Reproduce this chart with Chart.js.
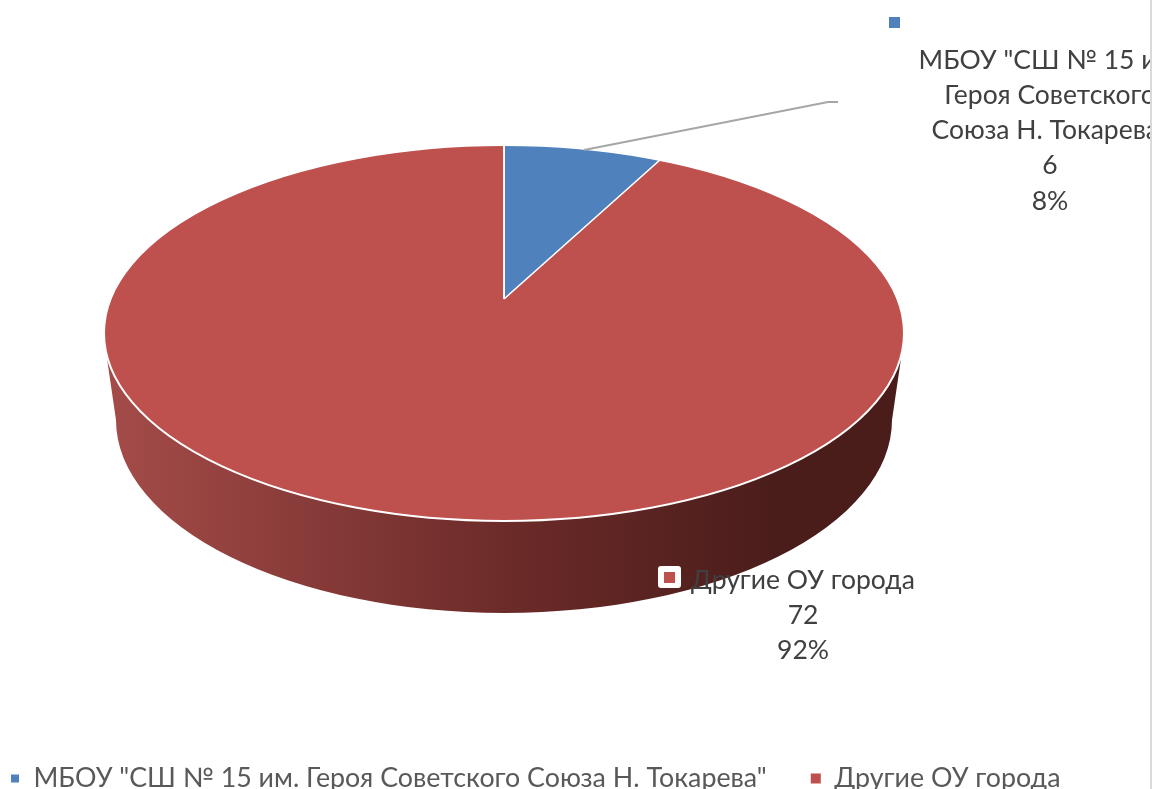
<!DOCTYPE html>
<html>
<head>
<meta charset="utf-8">
<script src="https://cdn.jsdelivr.net/npm/chart.js@4"></script>
<style>
  html, body { margin: 0; padding: 0; background: #fff; overflow: hidden; }
  #wrap { width: 1155px; height: 789px; }
</style>
</head>
<body>
<div id="wrap"><canvas id="pie"></canvas></div>
<script>
const categories = ['МБОУ "СШ № 15 им. Героя Советского Союза Н. Токарева"', 'Другие ОУ города'];
const values = [6, 72];
const percents = ['8%', '92%'];
const colors = ['#4f81bd', '#be504d'];
const labelLines = [
  ['МБОУ "СШ № 15 им.', 'Героя Советского', 'Союза Н. Токарева"'],
  ['Другие ОУ города']
];

const FONT = "Lato, 'Noto Sans', sans-serif";
const TEXT = '#404040';

// top face of the disc on screen
const face = { cx: 504, cy: 333, rx: 400, ry: 188 };
// the small slice has its apex above the ellipse centre (perspective), so it gets its own mapping
const sliceMap = { cx: 504, cy: 299, a: 335.5, b: -5.8, c: 0, d: 154 };

function drawMapped(ctx, arc, m) {
  const r = arc.outerRadius;
  ctx.save();
  ctx.translate(m.cx, m.cy);
  ctx.transform(m.a / r, m.b / r, m.c / r, m.d / r, 0, 0);
  ctx.translate(-arc.x, -arc.y);
  arc.draw(ctx);
  ctx.restore();
}

const disc3d = {
  id: 'disc3d',
  afterLayout(chart) {
    // legend sits hard against the left and bottom edge
    chart.legend.left = -34;
    chart.legend.top += 13;
  },
  beforeDatasetDraw(chart) {
    const ctx = chart.ctx;
    const arcs = chart.getDatasetMeta(0).data;

    // side wall
    const g = ctx.createLinearGradient(116, 0, 892, 0);
    g.addColorStop(0, '#a34b48');
    g.addColorStop(0.5, '#6c2b29');
    g.addColorStop(0.85, '#4a1d1b');
    g.addColorStop(1, '#4a1d1b');
    ctx.save();
    ctx.beginPath();
    ctx.moveTo(105, 345);
    ctx.lineTo(116, 420);
    ctx.ellipse(504, 420, 388, 193, 0, Math.PI, 0, true);
    ctx.lineTo(903, 345);
    ctx.closePath();
    ctx.fillStyle = g;
    ctx.fill();

    // top face
    ctx.beginPath();
    ctx.ellipse(face.cx, face.cy, face.rx, face.ry, 0, 0, Math.PI * 2);
    ctx.fillStyle = colors[1];
    ctx.fill();
    ctx.restore();

    drawMapped(ctx, arcs[1], { cx: face.cx, cy: face.cy, a: face.rx, b: 0, c: 0, d: face.ry });
    drawMapped(ctx, arcs[0], sliceMap);

    // white rim shows against the wall
    ctx.save();
    ctx.beginPath();
    ctx.ellipse(face.cx, face.cy, face.rx, face.ry, 0, 0, Math.PI * 2);
    ctx.strokeStyle = '#fff';
    ctx.lineWidth = 2;
    ctx.stroke();
    ctx.restore();
    return false;
  },
  afterDraw(chart) {
    const ctx = chart.ctx;
    ctx.save();

    // leader line
    ctx.beginPath();
    ctx.moveTo(584, 150);
    ctx.lineTo(828, 102);
    ctx.lineTo(838, 102);
    ctx.strokeStyle = '#a6a6a6';
    ctx.lineWidth = 2;
    ctx.stroke();

    // label keys
    ctx.fillStyle = colors[0];
    ctx.fillRect(889, 17, 11, 11);
    ctx.fillStyle = '#fff';
    ctx.beginPath();
    ctx.roundRect(658, 566, 23, 22, 3);
    ctx.fill();
    ctx.fillStyle = colors[1];
    ctx.fillRect(664, 572, 11, 11);

    // labels
    ctx.font = '26.5px ' + FONT;
    ctx.fillStyle = TEXT;
    ctx.textAlign = 'center';
    ctx.textBaseline = 'middle';

    ctx.save();
    ctx.beginPath();
    ctx.rect(0, 0, 1150, 789);
    ctx.clip();
    labelLines[0].concat([String(values[0]), percents[0]]).forEach((t, i) => {
      ctx.fillText(t, 1050, 60 + i * 35.3);
    });
    ctx.restore();

    labelLines[1].concat([String(values[1]), percents[1]]).forEach((t, i) => {
      ctx.fillText(t, 803, 580 + i * 35.3);
    });

    // edge of the cropped picture
    ctx.fillStyle = '#d9d9d9';
    ctx.fillRect(1150, 0, 2, 789);
    ctx.restore();
  }
};

new Chart(document.getElementById('pie'), {
  type: 'pie',
  data: {
    labels: categories,
    datasets: [{
      data: values,
      backgroundColor: colors,
      borderColor: '#fff',
      borderWidth: [2, 0]
    }]
  },
  options: {
    responsive: true,
    maintainAspectRatio: false,
    animation: false,
    layout: { padding: 0 },
    plugins: {
      tooltip: { enabled: false },
      legend: {
        position: 'bottom',
        align: 'start',
        labels: {
          color: '#595959',
          boxWidth: 10,
          boxHeight: 10,
          padding: 44,
          font: { family: FONT, size: 26.8 }
        }
      }
    }
  },
  plugins: [disc3d]
});
</script>
</body>
</html>
